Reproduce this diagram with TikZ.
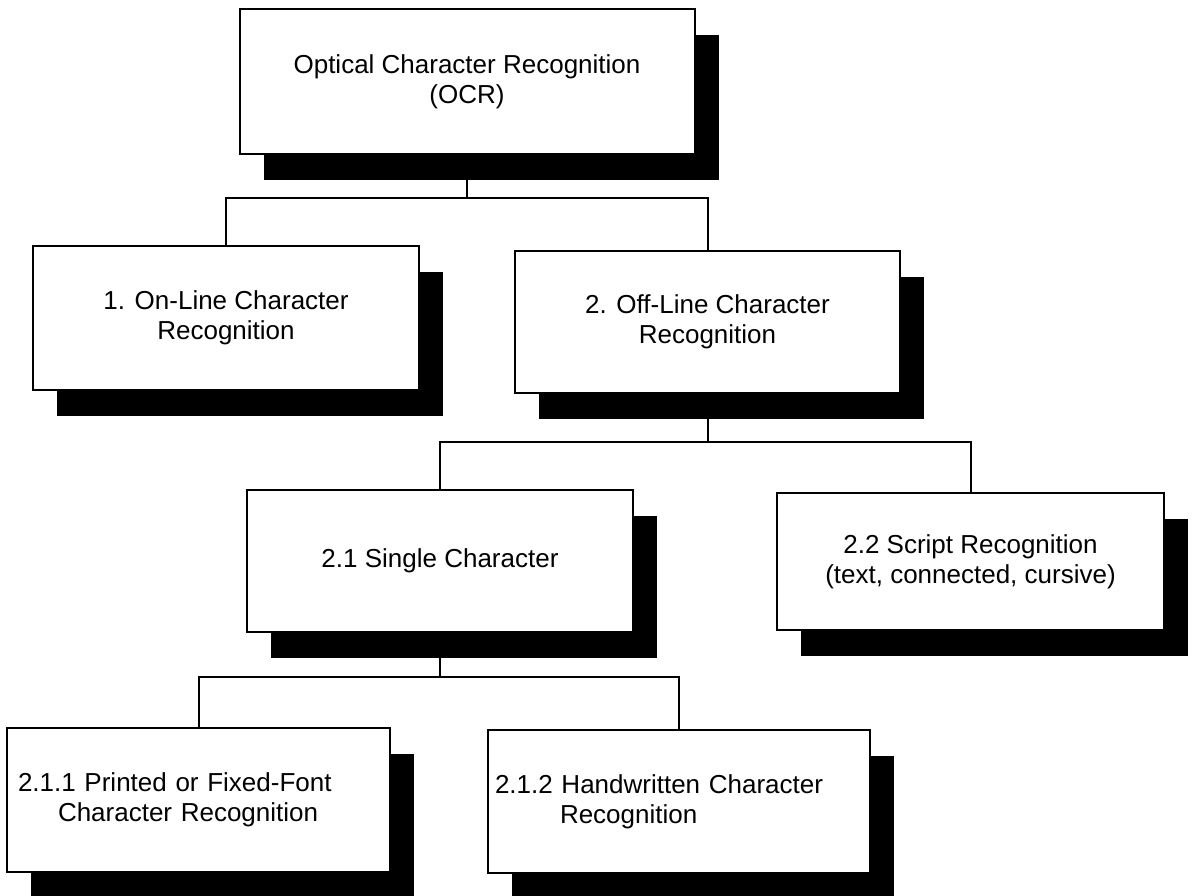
\documentclass[tikz,border=0pt]{standalone}
\usepackage{fontspec}
\setmainfont{Liberation Sans}
\usetikzlibrary{shadows}
\begin{document}
\begin{tikzpicture}[x=1pt,y=-1pt,
  box/.style={draw, line width=2pt, fill=white, rectangle, inner sep=0pt,
    minimum height=143pt, align=center,
    font=\fontsize{26}{30}\selectfont,
    drop shadow={shadow xshift=24pt, shadow yshift=-26pt, fill=black, opacity=1}},
  link/.style={draw, line width=2pt}]
\useasboundingbox (0,0) rectangle (1195,896);
\fill[white] (0,0) rectangle (1195,896);

\node[box, minimum width=455pt, minimum height=145pt] (ocr) at (467,81.5)
  {Optical Character Recognition\\(OCR)};
\node[box, minimum width=386pt, minimum height=144pt] (n1) at (226,318)
  {1. On-Line Character\\Recognition};
\node[box, minimum width=385pt, minimum height=142pt] (n2) at (707.5,322)
  {2. Off-Line Character\\Recognition};
\node[box, minimum width=386pt, minimum height=142pt] (n21) at (440,561)
  {2.1 Single Character};
\node[box, minimum width=387pt, minimum height=137pt] (n22) at (970.5,561.5)
  {2.2 Script Recognition\\(text, connected, cursive)};
\node[box, minimum width=383pt, minimum height=144pt, text width=361pt,
  inner xsep=11pt, align=left] (n211) at (198.5,800)
  {2.1.1 Printed or Fixed-Font\\\hspace*{40pt}Character Recognition};
\node[box, minimum width=382pt, minimum height=143pt, text width=368pt,
  inner xsep=7pt, align=left] (n212) at (679,801.5)
  {2.1.2 Handwritten Character\\\hspace*{65pt}Recognition};

\coordinate (bus1) at (467,198);
\coordinate (bus2) at (707.5,442);
\coordinate (bus3) at (440,677);

\draw[link] (ocr.south) -- (bus1) -| (n1.north);
\draw[link] (bus1) -| (n2.north);
\draw[link] (n2.south) -- (bus2) -| (n21.north);
\draw[link] (bus2) -| (n22.north);
\draw[link] (n21.south) -- (bus3) -| (n211.north);
\draw[link] (bus3) -| (n212.north);
\end{tikzpicture}
\end{document}
